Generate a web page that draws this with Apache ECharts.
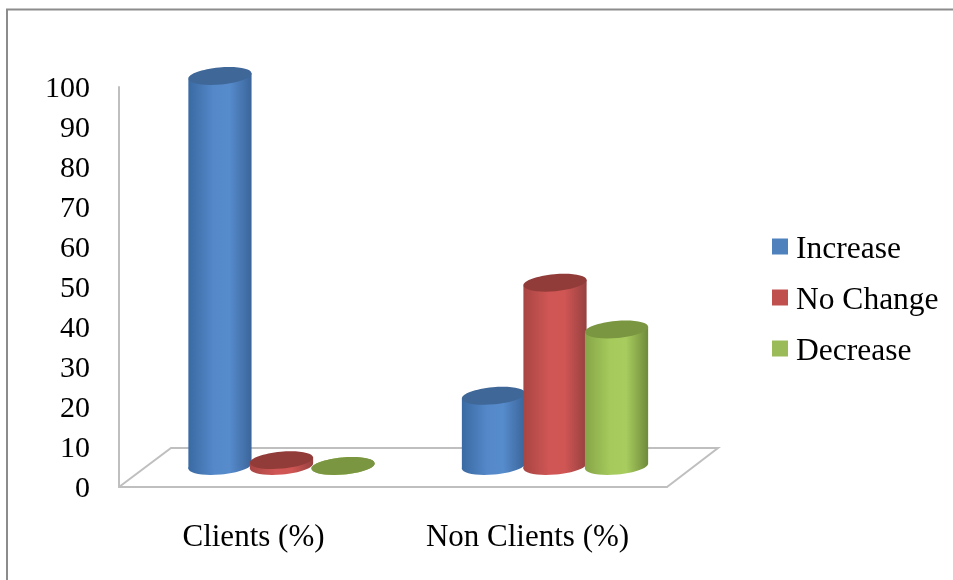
<!DOCTYPE html>
<html>
<head>
<meta charset="utf-8">
<style>html,body{margin:0;padding:0;background:#fff}#c{width:953px;height:580px}</style>
<script src="https://cdn.jsdelivr.net/npm/echarts@6/dist/echarts.min.js"></script>
</head>
<body>
<div id="c"></div>
<script>
const categories = ['Clients (%)', 'Non Clients (%)'];
const seriesNames = ['Increase', 'No Change', 'Decrease'];
const increase = [100, 18];
const noChange = [1.5, 47];
const decrease = [0, 35];
const legendColors = ['#4f81bd', '#c0504d', '#9bbb59'];
const bodyShades = [
  ['#3a6aa3', '#5488c9', '#568bcc', '#3b659a'],
  ['#a84543', '#cf5654', '#d05654', '#964140'],
  ['#86a548', '#a6ca5c', '#a8cc5e', '#6f8a3a']
];
const capColors = ['#3f6797', '#923c3a', '#7a9641'];
const fontFamily = '"Liberation Serif", serif';

function cylinderRenderer(idx) {
  return function (params, api) {
    const catWidth = api.size([1, 0])[0];
    const step = catWidth * 0.225;
    const halfW = catWidth * 0.116;
    const ry = 8.5;
    const tilt = 0.09;
    const lean = halfW * Math.sin(tilt);
    const sideW = halfW * Math.cos(tilt);
    const top = api.coord([api.value(0), api.value(1)]);
    const base = api.coord([api.value(0), 0]);
    const cx = top[0] + (idx - 1) * step;
    const s = bodyShades[idx];
    const fill = {
      type: 'linear', x: 0, y: 0, x2: 1, y2: 0,
      colorStops: [
        { offset: 0, color: s[0] }, { offset: 0.4, color: s[1] },
        { offset: 0.65, color: s[2] }, { offset: 1, color: s[3] }
      ]
    };
    const ell = (cy, style) => ({
      type: 'ellipse', originX: cx, originY: cy, rotation: tilt,
      shape: { cx: cx, cy: cy, rx: halfW, ry: ry }, style: style
    });
    return {
      type: 'group',
      children: [
        ell(base[1], { fill: fill }),
        { type: 'polygon', shape: { points: [
            [cx - sideW, top[1] + lean], [cx + sideW, top[1] - lean],
            [cx + sideW, base[1] - lean], [cx - sideW, base[1] + lean]
          ] }, style: { fill: fill } },
        ell(top[1], { fill: capColors[idx] })
      ]
    };
  };
}

const seriesData = [increase, noChange, decrease];
const chart = echarts.init(document.getElementById('c'));
const floor = '#bfbfbf';
chart.setOption({
  animation: false,
  backgroundColor: '#fff',
  graphic: [
    { type: 'polyline', z: 0, shape: { points: [[7, 580], [7, 9.5], [953, 9.5]] }, style: { stroke: '#8c8c8c', lineWidth: 2, fill: null } },
    { type: 'polyline', z: 0, shape: { points: [[119, 487], [171, 448], [718, 448], [667, 487]] }, style: { stroke: floor, lineWidth: 2, fill: null } }
  ],
  legend: {
    left: 767, top: 222, orient: 'vertical', icon: 'rect',
    itemWidth: 16, itemHeight: 16, itemGap: 12, data: seriesNames,
    formatter: '{t|{name}}',
    textStyle: { rich: { t: { fontFamily: fontFamily, fontSize: 31.5, lineHeight: 30, color: '#000', padding: [7, 0, 0, 3] } } }
  },
  grid: [
    { left: 119, top: 87, width: 548, height: 400 },
    { left: 144.75, top: 76, width: 547, height: 390 }
  ],
  xAxis: [
    { type: 'category', gridIndex: 0, data: categories,
      axisLine: { lineStyle: { color: floor, width: 2 } }, axisTick: { show: false },
      axisLabel: { fontFamily: fontFamily, fontSize: 31, color: '#000', margin: 35, padding: [0, 5, 0, 0] } },
    { type: 'category', gridIndex: 1, data: categories, show: false }
  ],
  yAxis: [
    { type: 'value', gridIndex: 0, min: 0, max: 100, interval: 10,
      axisLine: { show: true, lineStyle: { color: floor, width: 2 } }, axisTick: { show: false },
      splitLine: { show: false },
      axisLabel: { margin: 29, formatter: '{a|{value}}',
        rich: { a: { fontFamily: fontFamily, fontSize: 30, color: '#000', padding: [5, 0, 0, 0] } } } },
    { type: 'value', gridIndex: 1, min: 0, max: 100, show: false, splitLine: { show: false } }
  ],
  series: seriesNames.map((name, i) => ({
    type: 'custom', name: name, xAxisIndex: 1, yAxisIndex: 1, z: 2 + i, clip: false,
    encode: { x: 0, y: 1 },
    itemStyle: { color: legendColors[i] },
    renderItem: cylinderRenderer(i),
    data: seriesData[i].map((v, k) => [k, v])
  }))
});
</script>
</body>
</html>
